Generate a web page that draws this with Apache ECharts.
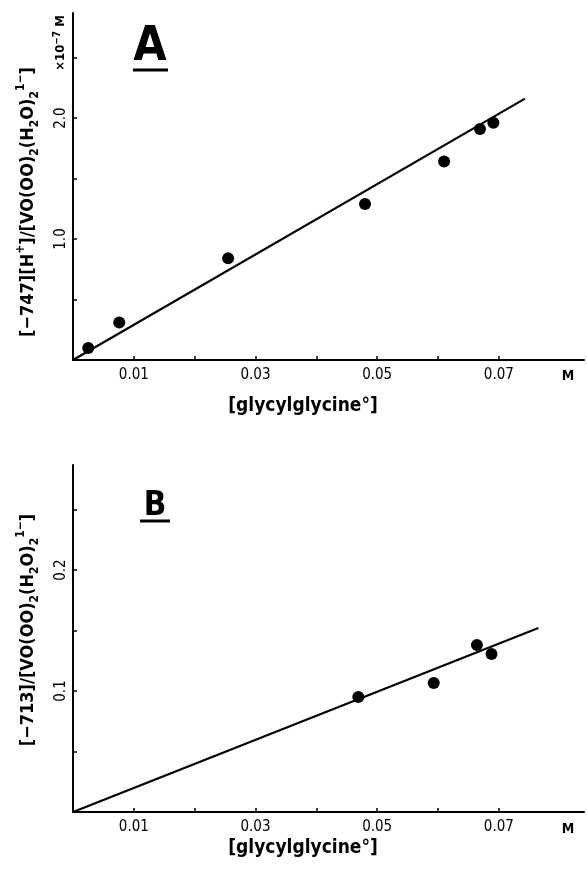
<!DOCTYPE html>
<html>
<head>
<meta charset="utf-8">
<script src="https://cdn.jsdelivr.net/npm/echarts@6.0.0/dist/echarts.min.js"></script>
<style>
  html, body { margin: 0; padding: 0; background: #fff; }
  #chart { width: 587px; height: 874px; }
</style>
</head>
<body>
<div id="chart"></div>
<script>
// panel A: [-747][H+]/[VO(OO)2(H2O)2 1-] vs [glycylglycine]
const xA = [0.0025, 0.0076, 0.0255, 0.048, 0.061, 0.0669, 0.0691]
const yA = [0.10, 0.31, 0.84, 1.29, 1.64, 1.91, 1.96]
const fitXA = [0, 0.0743]
const fitYA = [0, 2.16]

// panel B: [-713]/[VO(OO)2(H2O)2 1-] vs [glycylglycine]
const xB = [0.0469, 0.0593, 0.0664, 0.0688]
const yB = [0.095, 0.1066, 0.138, 0.1306]
const fitXB = [0, 0.0765]
const fitYB = [0, 0.152]

const xTicks = [0.01, 0.02, 0.03, 0.04, 0.05, 0.06, 0.07]
const xLabels = [0.01, 0.03, 0.05, 0.07]
const yTicksA = [0.5, 1.0, 1.5, 2.0, 2.5]
const yLabelsA = [1.0, 2.0]
const yTicksB = [0.05, 0.1, 0.15, 0.2, 0.25]
const yLabelsB = [0.1, 0.2]

const FONT = 'DejaVu Sans Condensed, DejaVu Sans, sans-serif'

function pairs (xs, ys) {
  return xs.map((x, i) => [x, ys[i]])
}

function xAxisFor (gridIndex) {
  return {
    type: 'value',
    gridIndex: gridIndex,
    min: 0,
    max: 0.084,
    axisLine: { lineStyle: { color: '#000', width: 2 } },
    axisTick: { show: true, inside: true, length: 4, customValues: xTicks, lineStyle: { color: '#000', width: 1.5 } },
    axisLabel: {
      customValues: xLabels,
      margin: 8,
      color: '#000',
      fontSize: 15,
      fontFamily: FONT,
      formatter: v => v.toFixed(2)
    },
    splitLine: { show: false }
  }
}

function yAxisFor (gridIndex, max, ticks, labels) {
  return {
    type: 'value',
    gridIndex: gridIndex,
    min: 0,
    max: max,
    axisLine: { lineStyle: { color: '#000', width: 2 } },
    axisTick: { show: true, inside: true, length: 4, customValues: ticks, lineStyle: { color: '#000', width: 1.5 } },
    axisLabel: {
      customValues: labels,
      rotate: 90,
      margin: 4,
      color: '#000',
      fontSize: 15,
      fontFamily: FONT,
      formatter: v => v.toFixed(1)
    },
    splitLine: { show: false }
  }
}

const richLabel = {
  n: { fontSize: 18, fontWeight: 'bold', fontFamily: FONT, color: '#000', lineHeight: 26 },
  sub: { fontSize: 12, fontWeight: 'bold', fontFamily: FONT, color: '#000', verticalAlign: 'bottom' },
  sup: { fontSize: 12, fontWeight: 'bold', fontFamily: FONT, color: '#000', verticalAlign: 'top' }
}

function vText (x, y, text, rich) {
  return {
    type: 'text',
    x: x,
    y: y,
    rotation: Math.PI / 2,
    style: {
      text: text,
      rich: rich,
      align: 'center',
      verticalAlign: 'middle',
      fill: '#000'
    }
  }
}

function plainText (x, y, text, size, weight) {
  return {
    type: 'text',
    x: x,
    y: y,
    style: {
      text: text,
      fontSize: size,
      fontWeight: weight || 'normal',
      fontFamily: FONT,
      align: 'center',
      verticalAlign: 'middle',
      fill: '#000'
    }
  }
}

function underline (x1, x2, y) {
  return {
    type: 'line',
    shape: { x1: x1, y1: y, x2: x2, y2: y },
    style: { stroke: '#000', lineWidth: 3 }
  }
}

const chart = echarts.init(document.getElementById('chart'), null, { renderer: 'canvas' })

const option = {
  backgroundColor: '#fff',
  animation: false,
  grid: [
    { left: 73, top: 13, width: 511, height: 347 },
    { left: 73, top: 465, width: 511, height: 347 }
  ],
  xAxis: [xAxisFor(0), xAxisFor(1)],
  yAxis: [
    yAxisFor(0, 2.868, yTicksA, yLabelsA),
    yAxisFor(1, 0.2868, yTicksB, yLabelsB)
  ],
  series: [
    {
      type: 'line',
      xAxisIndex: 0,
      yAxisIndex: 0,
      data: pairs(fitXA, fitYA),
      symbol: 'none',
      lineStyle: { color: '#000', width: 2.2 }
    },
    {
      type: 'scatter',
      xAxisIndex: 0,
      yAxisIndex: 0,
      data: pairs(xA, yA),
      symbolSize: 12,
      itemStyle: { color: '#000', opacity: 1 }
    },
    {
      type: 'line',
      xAxisIndex: 1,
      yAxisIndex: 1,
      data: pairs(fitXB, fitYB),
      symbol: 'none',
      lineStyle: { color: '#000', width: 2.2 }
    },
    {
      type: 'scatter',
      xAxisIndex: 1,
      yAxisIndex: 1,
      data: pairs(xB, yB),
      symbolSize: 12,
      itemStyle: { color: '#000', opacity: 1 }
    }
  ],
  graphic: [
    // panel letters
    plainText(150, 48, 'A', 48, 'bold'),
    underline(133, 168, 70),
    plainText(155, 506, 'B', 33, 'bold'),
    underline(140, 170, 521),
    // y axis titles
    vText(28, 202, '{n|[−747][H}{sup|+}{n|]/[VO(OO)}{sub|2}{n|(H}{sub|2}{n|O)}{sub|2}{sup|1−}{n|]}', richLabel),
    vText(28, 630, '{n|[−713]/[VO(OO)}{sub|2}{n|(H}{sub|2}{n|O)}{sub|2}{sup|1−}{n|]}', richLabel),
    vText(61, 43, '{s|×10}{t|−7}{s| M}', {
      s: { fontSize: 13, fontWeight: 'bold', fontFamily: FONT, color: '#000', lineHeight: 17 },
      t: { fontSize: 10, fontWeight: 'bold', fontFamily: FONT, color: '#000', verticalAlign: 'top' }
    }),
    // x axis titles and units
    plainText(303, 406, '[glycylglycine°]', 19, 'bold'),
    plainText(303, 848, '[glycylglycine°]', 19, 'bold'),
    plainText(568, 376, 'M', 14, 'bold'),
    plainText(568, 829, 'M', 14, 'bold')
  ]
}

chart.setOption(option)
</script>
</body>
</html>
